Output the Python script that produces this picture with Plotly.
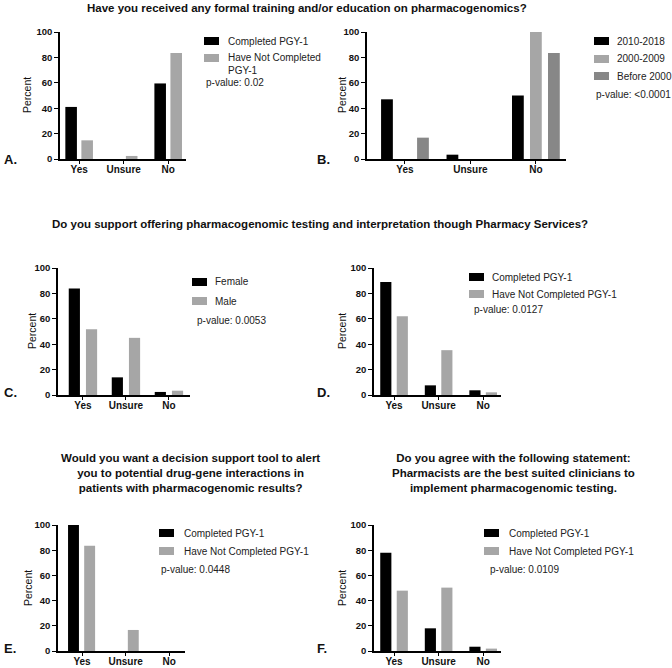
import plotly.graph_objects as go

W, H = 672, 668
FONT = "Liberation Sans, Arial, Helvetica, sans-serif"

categories = ["Yes", "Unsure", "No"]

# Panel A
a_completed = [41, 0, 59.5]
a_not_completed = [14.7, 2.4, 83.5]
# Panel B
b_2010_2018 = [47, 3.4, 50]
b_2000_2009 = [0, 0, 100]
b_before_2000 = [16.8, 0, 83.5]
# Panel C
c_female = [83.8, 13.9, 2.4]
c_male = [51.8, 45, 3.4]
# Panel D
d_completed = [89, 7.6, 3.7]
d_not_completed = [62, 35.3, 2.1]
# Panel E
e_completed = [100, 0, 0]
e_not_completed = [83.6, 16.7, 0]
# Panel F
f_completed = [78, 18, 3.4]
f_not_completed = [47.9, 50.3, 1.9]

y_ticks = [0, 20, 40, 60, 80, 100]

BLACK = "#000000"
LIGHT = "#a6a6a6"
MID = "#878787"


def px(x):
    return x / W


def py(y):
    return 1 - y / H


# pixel boxes of each plot area: (x0, x1, ytop, ybottom), x range
panels = {
    "A": dict(box=(60, 186, 32, 159), xr=[-0.43, 2.4]),
    "B": dict(box=(367, 566, 32, 159), xr=[-0.58, 2.46]),
    "C": dict(box=(58, 190, 268, 395), xr=[-0.58, 2.49]),
    "D": dict(box=(374, 501, 268, 395), xr=[-0.45, 2.4]),
    "E": dict(box=(58, 185, 525, 651), xr=[-0.55, 2.36]),
    "F": dict(box=(374, 501, 525, 651), xr=[-0.45, 2.4]),
}

fig = go.Figure()
layout_axes = {}
order = ["A", "B", "C", "D", "E", "F"]
for i, key in enumerate(order):
    n = "" if i == 0 else str(i + 1)
    x0, x1, yt, yb = panels[key]["box"]
    layout_axes["xaxis" + n] = dict(
        domain=[px(x0), px(x1)], anchor="y" + n, type="category",
        categoryorder="array", categoryarray=categories,
        range=panels[key]["xr"], showline=True, linecolor="black", linewidth=1.5,
        ticks="outside", ticklen=3, tickwidth=1.3, tickcolor="black",
        ticklabelstandoff=-3,
        showgrid=False, zeroline=False, fixedrange=True,
        tickfont=dict(family=FONT, size=10, color="#111", weight="bold"),
    )
    layout_axes["yaxis" + n] = dict(
        domain=[py(yb), py(yt)], anchor="x" + n, range=[0, 100],
        tickvals=y_ticks, showline=True, linecolor="black", linewidth=1.5,
        ticks="outside", ticklen=4, tickwidth=1.3, tickcolor="black",
        showgrid=False, zeroline=False, fixedrange=True,
        tickfont=dict(family=FONT, size=9.5, color="#111", weight="bold"),
    )


def add_bar(vals, name, color, panel_idx, offset, width):
    n = "" if panel_idx == 0 else str(panel_idx + 1)
    fig.add_trace(go.Bar(
        x=categories, y=vals, name=name, marker=dict(color=color, line=dict(width=0)),
        xaxis="x" + n, yaxis="y" + n, offset=offset, width=width, showlegend=False,
    ))


# A
add_bar(a_completed, "Completed PGY-1", BLACK, 0, -0.31, 0.26)
add_bar(a_not_completed, "Have Not Completed PGY-1", LIGHT, 0, 0.05, 0.26)
# B
add_bar(b_2010_2018, "2010-2018", BLACK, 1, -0.365, 0.18)
add_bar(b_2000_2009, "2000-2009", LIGHT, 1, -0.09, 0.18)
add_bar(b_before_2000, "Before 2000", MID, 1, 0.185, 0.18)
# C
add_bar(c_female, "Female", BLACK, 2, -0.33, 0.26)
add_bar(c_male, "Male", LIGHT, 2, 0.07, 0.26)
# D
add_bar(d_completed, "Completed PGY-1", BLACK, 3, -0.31, 0.25)
add_bar(d_not_completed, "Have Not Completed PGY-1", LIGHT, 3, 0.06, 0.25)
# E
add_bar(e_completed, "Completed PGY-1", BLACK, 4, -0.32, 0.25)
add_bar(e_not_completed, "Have Not Completed PGY-1", LIGHT, 4, 0.05, 0.25)
# F
add_bar(f_completed, "Completed PGY-1", BLACK, 5, -0.31, 0.25)
add_bar(f_not_completed, "Have Not Completed PGY-1", LIGHT, 5, 0.06, 0.25)

annotations = []
shapes = []


def txt(x, y, s, size=10, xanchor="left", bold=False, angle=0, color="#222", align="left"):
    annotations.append(dict(
        x=px(x), y=py(y), xref="paper", yref="paper", text=s, showarrow=False,
        xanchor=xanchor, yanchor="middle", textangle=angle, align=align,
        font=dict(family=FONT, size=size, color=color, weight="bold" if bold else "normal"),
    ))


def legend_block(sx, tx, rows):
    """rows: list of (swatch_center_y, text_center_y, label, color)"""
    for sy, ty, label, color in rows:
        shapes.append(dict(type="rect", xref="paper", yref="paper",
                           x0=px(sx), x1=px(sx + 15), y0=py(sy + 4), y1=py(sy - 4),
                           fillcolor=color, line=dict(width=0)))
        txt(tx, ty, label)


# legends
legend_block(204, 226, [(41, 41, "Completed PGY-1", BLACK),
                        (58, 64, "Have Not Completed<br>PGY-1", LIGHT)])
legend_block(594, 615, [(41, 41, "2010-2018", BLACK),
                        (59, 59, "2000-2009", LIGHT),
                        (76, 76, "Before 2000", MID)])
legend_block(192, 213, [(282, 282, "Female", BLACK),
                        (301, 301, "Male", LIGHT)])
legend_block(469, 490, [(277, 277, "Completed PGY-1", BLACK),
                        (294, 294, "Have Not Completed PGY-1", LIGHT)])
legend_block(159, 182, [(533, 533, "Completed PGY-1", BLACK),
                        (551, 551, "Have Not Completed PGY-1", LIGHT)])
legend_block(484, 507, [(533, 533, "Completed PGY-1", BLACK),
                        (551, 551, "Have Not Completed PGY-1", LIGHT)])

# titles
txt(307, 8, "Have you received any formal training and/or education on pharmacogenomics?",
    size=11.5, xanchor="center", bold=True, color="#111", align="center")
txt(320, 224, "Do you support offering pharmacogenomic testing and interpretation though Pharmacy Services?",
    size=11.5, xanchor="center", bold=True, color="#111", align="center")
txt(190, 473, "Would you want a decision support tool to alert<br>you to potential drug-gene interactions in<br>patients with pharmacogenomic results?",
    size=11.5, xanchor="center", bold=True, color="#111", align="center")
txt(513, 473, "Do you agree with the following statement:<br>Pharmacists are the best suited clinicians to<br>implement pharmacogenomic testing.",
    size=11.5, xanchor="center", bold=True, color="#111", align="center")

# panel letters
for letter, (x, y) in {"A.": (2, 159), "B.": (315, 159), "C.": (2, 393),
                       "D.": (315, 393), "E.": (2, 648), "F.": (315, 648)}.items():
    txt(x, y, letter, size=13, bold=True, color="#111")

# y-axis titles
for (x, y) in [(27, 95), (342, 95), (32, 331), (342, 331), (28, 588), (342, 588)]:
    txt(x, y, "Percent", size=10.5, xanchor="center", angle=-90, color="#111")

# p-values
txt(204, 82, "p-value: 0.02")
txt(594, 94, "p-value: <0.0001")
txt(195, 320, "p-value: 0.0053")
txt(472, 310, "p-value: 0.0127")
txt(159, 569, "p-value: 0.0448")
txt(488, 569, "p-value: 0.0109")

fig.update_layout(
    width=W, height=H, margin=dict(l=0, r=0, t=0, b=0, autoexpand=False),
    paper_bgcolor="white", plot_bgcolor="white",
    barmode="overlay", showlegend=False,
    annotations=annotations, shapes=shapes,
    font=dict(family=FONT),
    **layout_axes,
)

fig.write_html(
    "out.html",
    config={"displayModeBar": False},
    post_script="document.body.style.margin='0';document.body.style.overflow='hidden';",
)
